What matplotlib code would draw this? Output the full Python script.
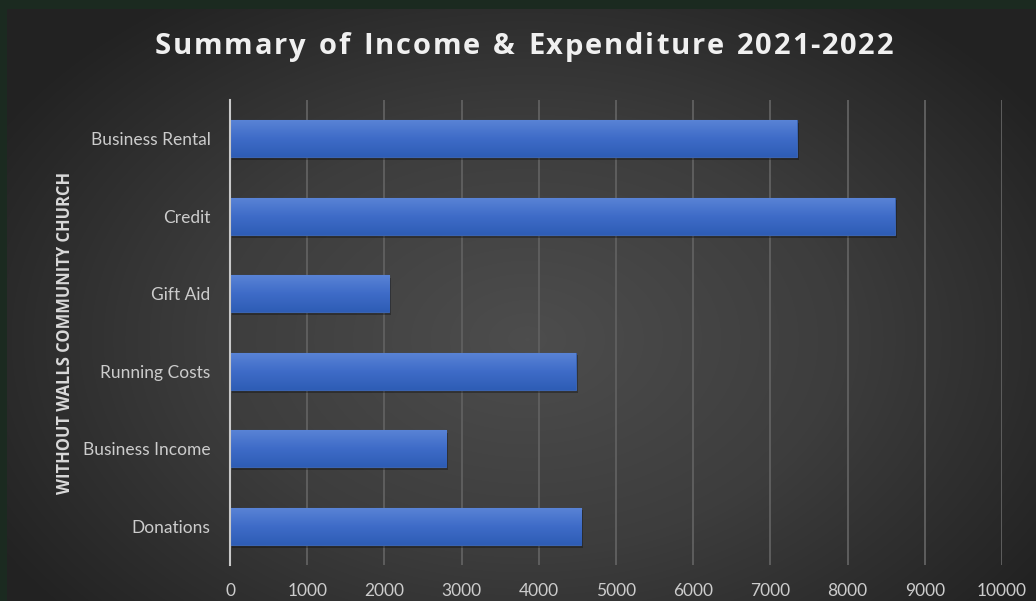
import numpy as np
import matplotlib.pyplot as plt
from matplotlib.colors import LinearSegmentedColormap

#- Data:
categories = ['Donations', 'Business Income', 'Running Costs', 'Gift Aid', 'Credit', 'Business Rental']
amounts = [4550, 2800, 4480, 2060, 8610, 7340]
x_ticks = [0, 1000, 2000, 3000, 4000, 5000, 6000, 7000, 8000, 9000, 10000]
title = 'Summary of Income & Expenditure 2021-2022'

W, H = 1036, 601
fig = plt.figure(figsize=(W / 100, H / 100), dpi=100)
fig.patch.set_facecolor('#1b2a20')

#- Radial gradient background:
bg = fig.add_axes([7 / W, 0, 1 - 7 / W, 1 - 9 / H])
bg.set_axis_off()
yy, xx = np.mgrid[0:592, 0:1029]
r = np.sqrt(((xx - 520) / 620.0) ** 2 + ((yy - 330) / 420.0) ** 2)
r = np.clip(r, 0, 1)
bg_cmap = LinearSegmentedColormap.from_list('bg', ['#4d4d4d', '#3d3d3d', '#222222'])
bg.imshow(r, cmap=bg_cmap, aspect='auto', extent=[0, 1, 0, 1], origin='upper')
bg.set_xlim(0, 1)
bg.set_ylim(0, 1)

ax = fig.add_axes([230 / W, 1 - 565 / H, (1002 - 230) / W, (565 - 100) / H])
ax.patch.set_alpha(0)

y = np.arange(len(categories))

#- Shadow under bars:
ax.barh(y - 0.035, amounts, height=0.48, left=25, color='black', alpha=0.3, zorder=2)
bars = ax.barh(y, amounts, height=0.48, color='#4472c4', edgecolor='#3a63b0', linewidth=0.8, zorder=3)

#- Blue gradient fill inside each bar:
bar_cmap = LinearSegmentedColormap.from_list('bar', ['#2e5db5', '#3f6cc8', '#5a84d6'])
grad = np.linspace(0, 1, 64).reshape(-1, 1)
for b in bars:
    x0, y0 = b.get_x(), b.get_y()
    im = ax.imshow(grad, cmap=bar_cmap, aspect='auto', origin='lower',
                   extent=[x0, x0 + b.get_width(), y0, y0 + b.get_height()], zorder=4)
    im.set_clip_path(b)

ax.set_xlim(0, 10000)
ax.set_ylim(-0.5, len(categories) - 0.5)
ax.set_xticks(x_ticks)
ax.set_xticklabels([str(t) for t in x_ticks])
ax.set_yticks(y)
ax.set_yticklabels(categories)
ax.tick_params(axis='both', length=0, colors='#cccccc', labelsize=12.5)
ax.tick_params(axis='x', pad=13)
ax.tick_params(axis='y', pad=14)
for lbl in ax.get_xticklabels() + ax.get_yticklabels():
    lbl.set_family('Lato')

ax.grid(axis='x', color='#5e5e5e', linewidth=1.4, zorder=0)
ax.set_axisbelow(True)
for s in ['top', 'right', 'bottom']:
    ax.spines[s].set_visible(False)
ax.spines['left'].set_color('#c8c8c8')
ax.spines['left'].set_linewidth(1.5)
ax.spines['left'].set_zorder(5)

fig.text(65 / W, 1 - 333 / H, 'WITHOUT WALLS COMMUNITY CHURCH', rotation=90,
         ha='center', va='center', color='#d9d9d9', fontsize=11.9, fontweight='bold',
         family='Open Sans')

#- Title with letter spacing, one glyph at a time:
renderer = fig.canvas.get_renderer()
spacing = 1.8
widths = []
for ch in title:
    t = fig.text(0, 0, ch if ch != ' ' else 'n', fontsize=21, fontweight='bold', family='Open Sans')
    w = t.get_window_extent(renderer).width
    if ch == ' ':
        w *= 0.5
    widths.append(w)
    t.remove()
total = sum(widths) + spacing * (len(title) - 1)
xpos = 524 - total / 2
for ch, w in zip(title, widths):
    if ch != ' ':
        fig.text(xpos / W, 1 - 47 / H, ch, ha='left', va='center', color='#f0f0f0',
                 fontsize=21, fontweight='bold', family='Open Sans')
    xpos += w + spacing

fig.savefig('out.png', dpi=100, facecolor=fig.get_facecolor())
